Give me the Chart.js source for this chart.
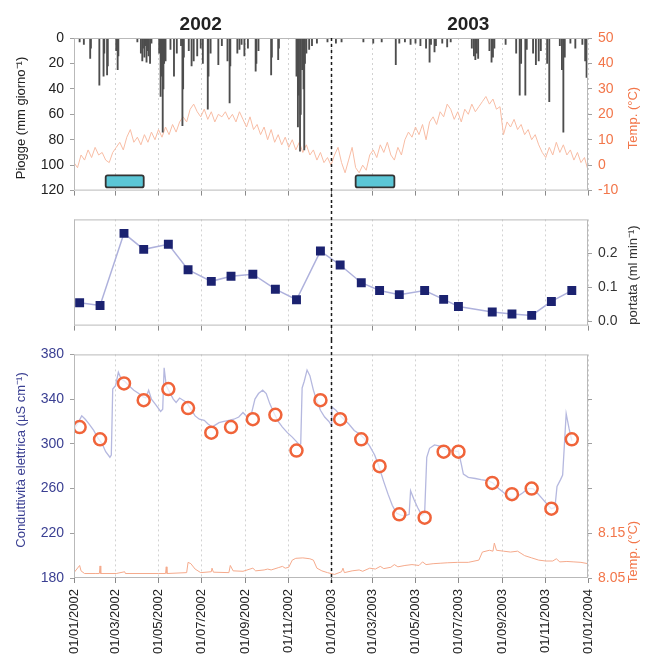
<!DOCTYPE html>
<html>
<head>
<meta charset="utf-8">
<script src="https://cdn.jsdelivr.net/npm/chart.js@4.4.1/dist/chart.umd.min.js"></script>
<style>
  html, body { margin: 0; padding: 0; background: #fff; }
  #wrap { position: relative; width: 648px; height: 662px; }
  #wrap canvas { position: absolute; left: 0; }
</style>
</head>
<body>
<div id="wrap">
  <canvas id="rain" width="648" height="205" style="top:0"></canvas>
  <canvas id="flow" width="648" height="135" style="top:205px"></canvas>
  <canvas id="cond" width="648" height="322" style="top:340px"></canvas>
</div>
<script>
// days counted from 01/01/2002
const xTickDays = [0, 59, 120, 181, 243, 304, 365, 424, 485, 546, 608, 669, 730];
const xTickLabels = ['01/01/2002', '01/03/2002', '01/05/2002', '01/07/2002', '01/09/2002', '01/11/2002',
  '01/01/2003', '01/03/2003', '01/05/2003', '01/07/2003', '01/09/2003', '01/11/2003', '01/01/2004'];
const yearBreak = 365;
const yearLabels = ['2002', '2003'];
const yearMid = [180, 560];

// daily rain (mm giorno-1)
const rainDay = [8, 14, 23, 24, 36, 42, 43, 47, 48, 60, 62, 63, 90, 95, 97, 98, 100, 101, 103, 104, 106, 108, 110,
  121, 123, 124, 126, 127, 128, 130, 137, 142, 146, 152, 154, 155, 156, 163, 167, 170, 175, 180, 183, 190, 191, 194,
  205, 210, 218, 221, 222, 232, 235, 238, 242, 247, 258, 259, 262, 280, 281, 290, 291, 316, 318, 319, 321, 322, 324,
  326, 327, 328, 330, 334, 338, 345, 360,
  372, 380, 411, 425, 437, 457, 462, 470, 478, 485, 492, 500, 505, 507, 512, 514, 523, 530, 535, 565, 568, 570, 572,
  574, 590, 593, 595, 597, 613, 628, 633, 635, 641, 643, 652, 656, 660, 663, 672, 675, 690, 693, 695, 697, 705, 712,
  722, 726, 728];
const rainMm = [3, 5, 16, 8, 37, 30, 12, 29, 22, 10, 25, 14, 3, 12, 18, 8, 15, 6, 19, 10, 14, 20, 4,
  12, 46, 30, 74, 40, 20, 18, 9, 30, 12, 6, 69, 40, 15, 10, 22, 18, 14, 8, 20, 56, 30, 12,
  21, 6, 18, 51, 22, 12, 9, 5, 14, 8, 26, 20, 10, 29, 15, 17, 8, 30, 70, 45, 89, 60, 25,
  40, 88, 20, 12, 9, 6, 4, 3,
  4, 3, 3, 4, 3, 21, 4, 3, 5, 4, 6, 8, 19, 5, 11, 6, 4, 7, 3, 8, 14, 17, 12,
  16, 10, 19, 15, 8, 5, 12, 45, 20, 45, 9, 12, 21, 18, 10, 20, 50, 6, 25, 74, 15, 4, 8,
  5, 18, 31];

// air temperature (°C), one reading every 5 days
const airStep = 5;
const airTemp = [1, -1, 4, 2, 6, 3, 7, 4, 5, 2, 1, 5, 7, 9, 6, 11, 14, 9, 11, 8, 12, 9, 13, 10, 14, 11, 15, 12, 16,
  13, 17, 19, 17, 22, 24, 21, 19, 22, 18, 21, 17, 20, 19, 21, 18, 20, 17, 21, 18, 15, 19, 14, 16, 12, 15, 10, 14, 9,
  12, 8, 11, 7, 10, 6, 9, 5, 8, 4, 6, 2, 5, 1, 3, 0,
  4, 7, 1, -3, 2, 7, -1, -3, 0, -2, 4, 6, 3, 8, 5, 9, 4, 2, 7, 4, 10, 13, 11, 15, 12, 16, 10, 17, 19, 16, 21, 19, 24,
  22, 18, 21, 17, 22, 20, 24, 21, 23, 25, 27, 24, 26, 22, 23, 12, 17, 15, 18, 14, 16, 12, 14, 10, 12, 8, 5, 3, 7, 4,
  9, 5, 8, 4, 6, 2, 5, 1, 3, -2];

// dry periods (cyan boxes), in days and rain-axis units
const dryStart = [45, 400];
const dryEnd = [99, 455];
const dryTop = 108;
const dryBottom = 117.5;

// sampling days
const sampleDay = [8, 37, 71, 99, 134, 162, 195, 223, 254, 286, 316, 350, 378, 408, 434, 462, 498, 525, 546, 594,
  622, 650, 678, 707];
const portata = [0.055, 0.047, 0.259, 0.212, 0.227, 0.152, 0.118, 0.133, 0.139, 0.095, 0.064, 0.207, 0.166, 0.114,
  0.091, 0.079, 0.091, 0.065, 0.044, 0.028, 0.022, 0.018, 0.059, 0.091];
const condSample = [315, 304, 354, 339, 349, 332, 310, 315, 322, 326, 294, 339, 322, 304, 280, 237, 234, 293, 293,
  265, 255, 260, 242, 304];

// continuous conductivity record (µS cm-1)
const condDay = [0, 5, 11, 16, 21, 28, 34, 40, 45, 51, 53, 55, 59, 63, 67, 72, 78, 85, 92, 98, 102, 106, 110, 116,
  123, 126, 128, 131, 136, 141, 145, 150, 155, 160, 166, 172, 178, 185, 190, 196, 201, 206, 213, 220, 227, 234, 240,
  246, 252, 257, 262, 268, 273, 278, 283, 290, 296, 303, 310, 316, 320, 322, 324, 327, 331, 335, 340, 345, 350, 356,
  362, 365, 366, 372, 380, 390, 398, 405, 412, 420, 427, 433, 440, 446, 452, 458, 465, 472, 476, 478, 483, 488, 494,
  498, 501, 505, 512, 520, 528, 537, 546, 550, 553, 560, 570, 578, 588, 595, 603, 611, 618, 624, 630, 637, 645, 652,
  658, 665, 672, 678, 683, 686, 691, 694, 697, 699, 703, 707];
const condVal = [313, 318, 325, 322, 318, 312, 305, 300, 293, 288, 290, 349, 352, 364, 358, 356, 352, 348, 345, 342,
  341, 348, 340, 335, 329, 331, 368, 352, 346, 340, 337, 341, 339, 337, 331, 325, 322, 321, 318, 315, 317, 319, 320,
  321, 322, 324, 328, 324, 327, 340, 345, 348, 345, 336, 329, 320, 315, 310, 306, 302, 299, 300, 350, 356, 366, 361,
  348, 338, 330, 324, 320, 317, 333, 330, 324, 318, 312, 309, 305, 298, 290, 280, 266, 255, 245, 238, 236, 236, 237,
  258, 250, 243, 236, 238, 288, 296, 299, 298, 295, 294, 293, 282, 273, 270, 269, 268, 267, 265, 260, 256, 252, 251,
  253, 256, 260, 260, 256, 251, 246, 242, 243, 262, 268, 272, 305, 327, 314, 303];

// water temperature (°C)
const waterDay = [0, 8, 10, 15, 30, 36, 37, 38, 60, 72, 73, 120, 130, 131, 132, 160, 162, 166, 172, 180, 195, 196,
  198, 220, 222, 226, 240, 250, 254, 258, 270, 275, 280, 290, 296, 300, 305, 310, 315, 325, 335, 340, 345, 352, 360,
  370, 380, 382, 384, 395, 405, 410, 420, 428, 435, 440, 450, 455, 460, 470, 480, 490, 495, 500, 510, 520, 530, 545,
  560, 575, 580, 590, 595, 597, 600, 610, 620, 630, 640, 650, 660, 670, 680, 685, 690, 700, 710, 720, 730];
const waterTemp = [8.062, 8.078, 8.066, 8.06, 8.06, 8.06, 8.077, 8.06, 8.06, 8.064, 8.06, 8.06, 8.06, 8.075, 8.06,
  8.062, 8.085, 8.082, 8.07, 8.062, 8.064, 8.072, 8.063, 8.062, 8.078, 8.066, 8.065, 8.07, 8.072, 8.066, 8.068, 8.07,
  8.068, 8.073, 8.076, 8.072, 8.074, 8.09, 8.094, 8.095, 8.093, 8.09, 8.072, 8.066, 8.062, 8.058, 8.064, 8.072, 8.062,
  8.066, 8.068, 8.065, 8.072, 8.07, 8.076, 8.071, 8.074, 8.08, 8.075, 8.078, 8.08, 8.078, 8.086, 8.08, 8.082, 8.083,
  8.084, 8.085, 8.085, 8.09, 8.108, 8.112, 8.11, 8.128, 8.112, 8.11, 8.108, 8.11, 8.1, 8.095, 8.09, 8.088, 8.088,
  8.093, 8.086, 8.087, 8.086, 8.085, 8.082];

const FONT = '"Liberation Sans", Arial, sans-serif';
const ORANGE = '#f2764a';
const NAVY = '#3a3f92';
Chart.defaults.font.family = FONT;

const decor = {
  id: 'decor',
  afterDatasetsDraw(chart, args, o) {
    const { ctx, chartArea: a, scales } = chart;
    ctx.save();
    if (o.dry) {
      dryStart.forEach((s, i) => {
        const x1 = scales.x.getPixelForValue(s);
        const x2 = scales.x.getPixelForValue(dryEnd[i]);
        const y1 = scales.y.getPixelForValue(dryTop);
        const y2 = scales.y.getPixelForValue(dryBottom);
        ctx.fillStyle = '#5bc6d6';
        ctx.strokeStyle = '#333';
        ctx.lineWidth = 1.8;
        ctx.beginPath();
        ctx.roundRect(x1, y1, x2 - x1, y2 - y1, 2);
        ctx.fill();
        ctx.stroke();
      });
    }
    ctx.strokeStyle = '#b9b9b9';
    ctx.lineWidth = 1;
    ctx.strokeRect(a.left + 0.5, a.top + 0.5, a.width - 1, a.height - 1);

    const xb = Math.round(scales.x.getPixelForValue(yearBreak)) + 0.5;
    ctx.strokeStyle = '#1a1a1a';
    ctx.lineWidth = 1.5;
    ctx.setLineDash([3, 3]);
    ctx.beginPath();
    ctx.moveTo(xb, o.lineTop === 'area' ? a.top : 0);
    ctx.lineTo(xb, o.lineBottom === 'area' ? a.bottom + 6 : chart.height);
    ctx.stroke();
    ctx.setLineDash([]);

    (o.titles || []).forEach((t) => {
      ctx.save();
      ctx.translate(t.x, t.y);
      ctx.rotate(-Math.PI / 2);
      ctx.fillStyle = t.color;
      ctx.font = '13px ' + FONT;
      ctx.textAlign = 'center';
      ctx.textBaseline = 'middle';
      ctx.fillText(t.text, 0, 0);
      ctx.restore();
    });

    if (o.years) {
      ctx.fillStyle = '#222';
      ctx.font = 'bold 19px ' + FONT;
      ctx.textAlign = 'center';
      ctx.textBaseline = 'middle';
      yearLabels.forEach((label, i) => ctx.fillText(label, scales.x.getPixelForValue(yearMid[i]), 25));
    }
    ctx.restore();
  },
};

const xAxis = (labels, h) => ({
  type: 'linear',
  min: 0,
  max: 730,
  offset: false,
  afterBuildTicks: (s) => { s.ticks = xTickDays.map((v) => ({ value: v })); },
  afterFit: (s) => { s.height = h; },
  grid: { color: '#d2d2d2', tickColor: '#8a8a8a', tickLength: 5, offset: false },
  border: { display: false, dash: [2, 3] },
  ticks: {
    display: labels, autoSkip: false, minRotation: 90, maxRotation: 90, padding: 6,
    color: '#222', font: { size: 13 },
    callback: (v, i) => xTickLabels[i],
  },
});

const yGrid = { drawOnChartArea: false, tickLength: 4, tickColor: '#a0a0a0' };
const base = {
  responsive: false,
  animation: false,
  devicePixelRatio: 1,
  events: [],
};

new Chart(document.getElementById('rain'), {
  type: 'bar',
  data: {
    datasets: [
      {
        type: 'bar',
        data: rainDay.map((d, i) => ({ x: d, y: rainMm[i] })),
        backgroundColor: '#4d4d4d',
        barThickness: 1.2,
        yAxisID: 'y',
      },
      {
        type: 'line',
        data: airTemp.map((t, i) => ({ x: i * airStep, y: t })),
        borderColor: '#f8bda5',
        borderWidth: 1,
        pointRadius: 0,
        yAxisID: 'yT',
      },
    ],
  },
  options: {
    ...base,
    layout: { padding: { top: 38 } },
    plugins: {
      legend: { display: false },
      tooltip: { enabled: false },
      decor: {
        dry: true, years: true, lineTop: 'area', lineBottom: 'canvas',
        titles: [
          { text: 'Piogge (mm giorno\u207B\u00B9)', x: 21, y: 118, color: '#222' },
          { text: 'Temp. (°C)', x: 633, y: 118, color: ORANGE },
        ],
      },
    },
    scales: {
      x: xAxis(false, 7),
      y: {
        position: 'left', reverse: true, min: 0, max: 120,
        afterFit: (s) => { s.width = 74; },
        grid: yGrid, border: { display: false },
        ticks: { stepSize: 20, color: '#222', font: { size: 14 }, padding: 6 },
      },
      yT: {
        position: 'right', min: -10, max: 50,
        afterFit: (s) => { s.width = 60; },
        grid: yGrid, border: { display: false },
        ticks: { stepSize: 10, color: ORANGE, font: { size: 14 }, padding: 6 },
      },
    },
  },
  plugins: [decor],
});

new Chart(document.getElementById('flow'), {
  type: 'line',
  data: {
    datasets: [{
      data: sampleDay.map((d, i) => ({ x: d, y: portata[i] })),
      borderColor: '#aeb1dc',
      borderWidth: 1.5,
      pointStyle: 'rect',
      pointRadius: 6.3,
      pointBackgroundColor: '#1b2270',
      pointBorderColor: '#1b2270',
      pointBorderWidth: 0,
      yAxisID: 'y',
    }],
  },
  options: {
    ...base,
    layout: { padding: { top: 8, left: 74 } },
    plugins: {
      legend: { display: false },
      tooltip: { enabled: false },
      decor: {
        lineTop: 'canvas', lineBottom: 'canvas',
        titles: [{ text: 'portata (ml min\u207B\u00B9)', x: 633, y: 70, color: '#333' }],
      },
    },
    scales: {
      x: xAxis(false, 4),
      y: {
        position: 'right', min: -0.012, max: 0.3,
        afterBuildTicks: (s) => { s.ticks = [0, 0.1, 0.2].map((v) => ({ value: v })); },
        afterFit: (s) => { s.width = 60; },
        grid: yGrid, border: { display: false },
        ticks: { color: '#333', font: { size: 14 }, padding: 6, callback: (v) => v.toFixed(1) },
      },
    },
  },
  plugins: [decor],
});

new Chart(document.getElementById('cond'), {
  type: 'line',
  data: {
    datasets: [
      {
        data: sampleDay.map((d, i) => ({ x: d, y: condSample[i] })),
        showLine: false,
        pointRadius: 6,
        pointBorderWidth: 2.5,
        pointBorderColor: '#f0643a',
        pointBackgroundColor: 'rgba(255,255,255,0.7)',
        yAxisID: 'y',
      },
      {
        data: condDay.map((d, i) => ({ x: d, y: condVal[i] })),
        borderColor: '#b5b8df',
        borderWidth: 1.3,
        pointRadius: 0,
        yAxisID: 'y',
      },
      {
        data: waterDay.map((d, i) => ({ x: d, y: waterTemp[i] })),
        borderColor: '#f5aa8c',
        borderWidth: 1,
        pointRadius: 0,
        yAxisID: 'yW',
      },
    ],
  },
  options: {
    ...base,
    layout: { padding: { top: 2 } },
    plugins: {
      legend: { display: false },
      tooltip: { enabled: false },
      decor: {
        lineTop: 'canvas', lineBottom: 'area',
        titles: [
          { text: 'Conduttività elettrica (µS cm\u207B\u00B9)', x: 21, y: 120, color: NAVY },
          { text: 'Temp. (°C)', x: 633, y: 212, color: ORANGE },
        ],
      },
    },
    scales: {
      x: xAxis(true, 84),
      y: {
        position: 'left', min: 180, max: 380,
        afterFit: (s) => { s.width = 74; },
        grid: yGrid, border: { display: false },
        ticks: { stepSize: 40, color: NAVY, font: { size: 14 }, padding: 6 },
      },
      yW: {
        position: 'right', min: 8.05, max: 8.55,
        afterBuildTicks: (s) => { s.ticks = [8.05, 8.15, 8.25, 8.35, 8.45].map((v) => ({ value: v })); },
        afterFit: (s) => { s.width = 60; },
        grid: yGrid, border: { display: false },
        ticks: {
          color: ORANGE, font: { size: 14 }, padding: 6,
          callback: (v) => (v < 8.2 ? v.toFixed(2) : ''),
        },
      },
    },
  },
  plugins: [decor],
});
</script>
</body>
</html>
